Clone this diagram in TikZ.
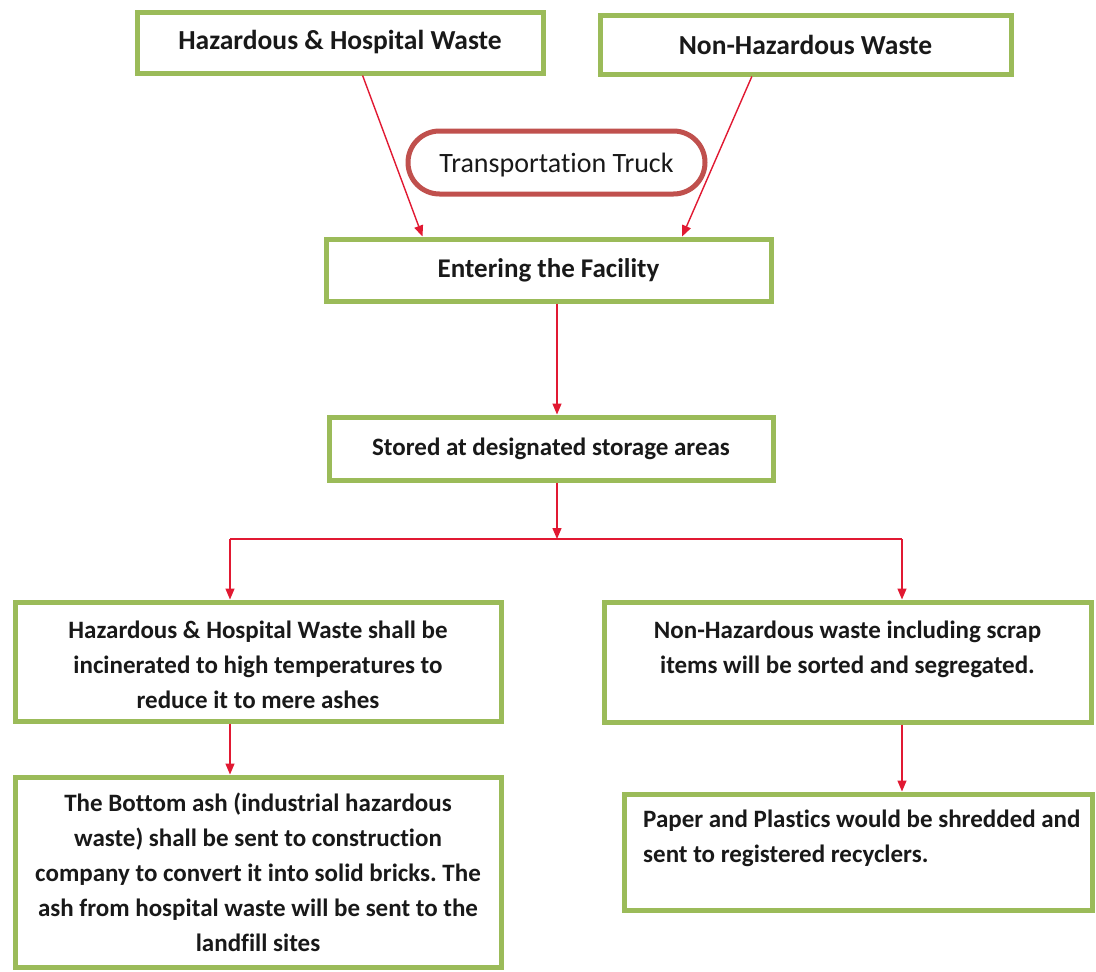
\documentclass[tikz,border=0pt]{standalone}
\usepackage{fontspec}
\setmainfont[Ligatures=NoCommon]{Carlito}
\usetikzlibrary{arrows.meta,calc,shapes.misc}
\definecolor{boxgreen}{RGB}{155,187,89}
\definecolor{arrowred}{RGB}{225,25,50}
\definecolor{truckred}{RGB}{192,80,77}
\definecolor{txt}{RGB}{25,25,25}
\tikzset{
  greenbox/.style={draw=boxgreen, line width=5pt, fill=white, inner sep=0pt},
  flow/.style={draw=arrowred, line width=1.4pt, -{Triangle[length=11pt,width=9pt]}},
  plainline/.style={draw=arrowred, line width=1.4pt},
  bodytext/.style={text=txt, font=\fontsize{25}{35}\selectfont\bfseries, inner sep=0pt},
  titletext/.style={text=txt, font=\fontsize{27.5}{32}\selectfont\bfseries},
}
\begin{document}
\frenchspacing
\begin{tikzpicture}[x=1pt,y=-1pt]
\useasboundingbox[fill=white] (0,0) rectangle (1096,972);

% top boxes
\node[greenbox, titletext, minimum width=406pt, minimum height=61pt] (haz) at (340,42.5) {Hazardous \& Hospital Waste};
\node[greenbox, titletext, minimum width=411pt, minimum height=59pt] (nonhaz) at (805.5,44.5) {Non-Hazardous Waste};

% truck
\node[draw=truckred, line width=5pt, rounded rectangle, minimum width=297pt, minimum height=63pt, inner sep=0pt,
      text=txt, font=\fontsize{28}{32}\selectfont, text depth=0pt] (truck) at (556.5,162.5) {Transportation Truck};

% middle boxes
\node[greenbox, bodytext, font=\fontsize{27}{32}\selectfont\bfseries, minimum width=445pt, minimum height=62pt] (enter) at (548.5,270) {Entering the Facility};
\node[greenbox, bodytext, minimum width=444pt, minimum height=63pt] (stored) at (551,448.5) {Stored at designated storage areas};

% lower boxes
\node[greenbox, minimum width=486pt, minimum height=119pt] (lbox) at (258,661.5) {};
\node[bodytext, align=center] (ltext) at (258,664.5)
  {Hazardous \& Hospital Waste shall be\\incinerated to high temperatures to\\reduce it to mere ashes};
\node[greenbox, minimum width=487pt, minimum height=120pt] (rbox) at (847.5,662) {};
\node[bodytext, align=center, anchor=north] (rtext) at (847.5,621)
  {Non-Hazardous waste including scrap\\items will be sorted and segregated.};

\node[greenbox, bodytext, minimum width=486pt, minimum height=190pt, align=center] (bl) at (258,872)
  {The Bottom ash (industrial hazardous\\waste) shall be sent to construction\\company to convert it into solid bricks. The\\ash from hospital waste will be sent to the\\landfill sites};
\node[greenbox, minimum width=468pt, minimum height=116pt] (br) at (858,852) {};
\node[bodytext, align=left, anchor=north west] (brtext) at (643,810)
  {Paper and Plastics would be shredded and\\sent to registered recyclers.};

% connectors
\coordinate (mid) at (557,539);
\coordinate (lx) at (230,539);
\coordinate (rx) at (902,539);

\draw[flow] ($(haz.south west)!0.555!(haz.south east)$) -- ($(enter.north west)!0.22!(enter.north east)$);
\draw[flow] ($(nonhaz.south west)!0.371!(nonhaz.south east)$) -- ($(enter.north west)!0.797!(enter.north east)$);
\draw[flow] (enter.south -| mid) -- (stored.north -| mid);
\draw[flow] (stored.south -| mid) -- (mid);
\draw[plainline] (lx) -- (rx);
\draw[flow] (lx) -- (lbox.north -| lx);
\draw[flow] (rx) -- (rbox.north -| rx);
\draw[flow] (lbox.south -| lx) -- (bl.north -| lx);
\draw[flow] (rbox.south -| rx) -- (br.north -| rx);
\end{tikzpicture}
\end{document}
